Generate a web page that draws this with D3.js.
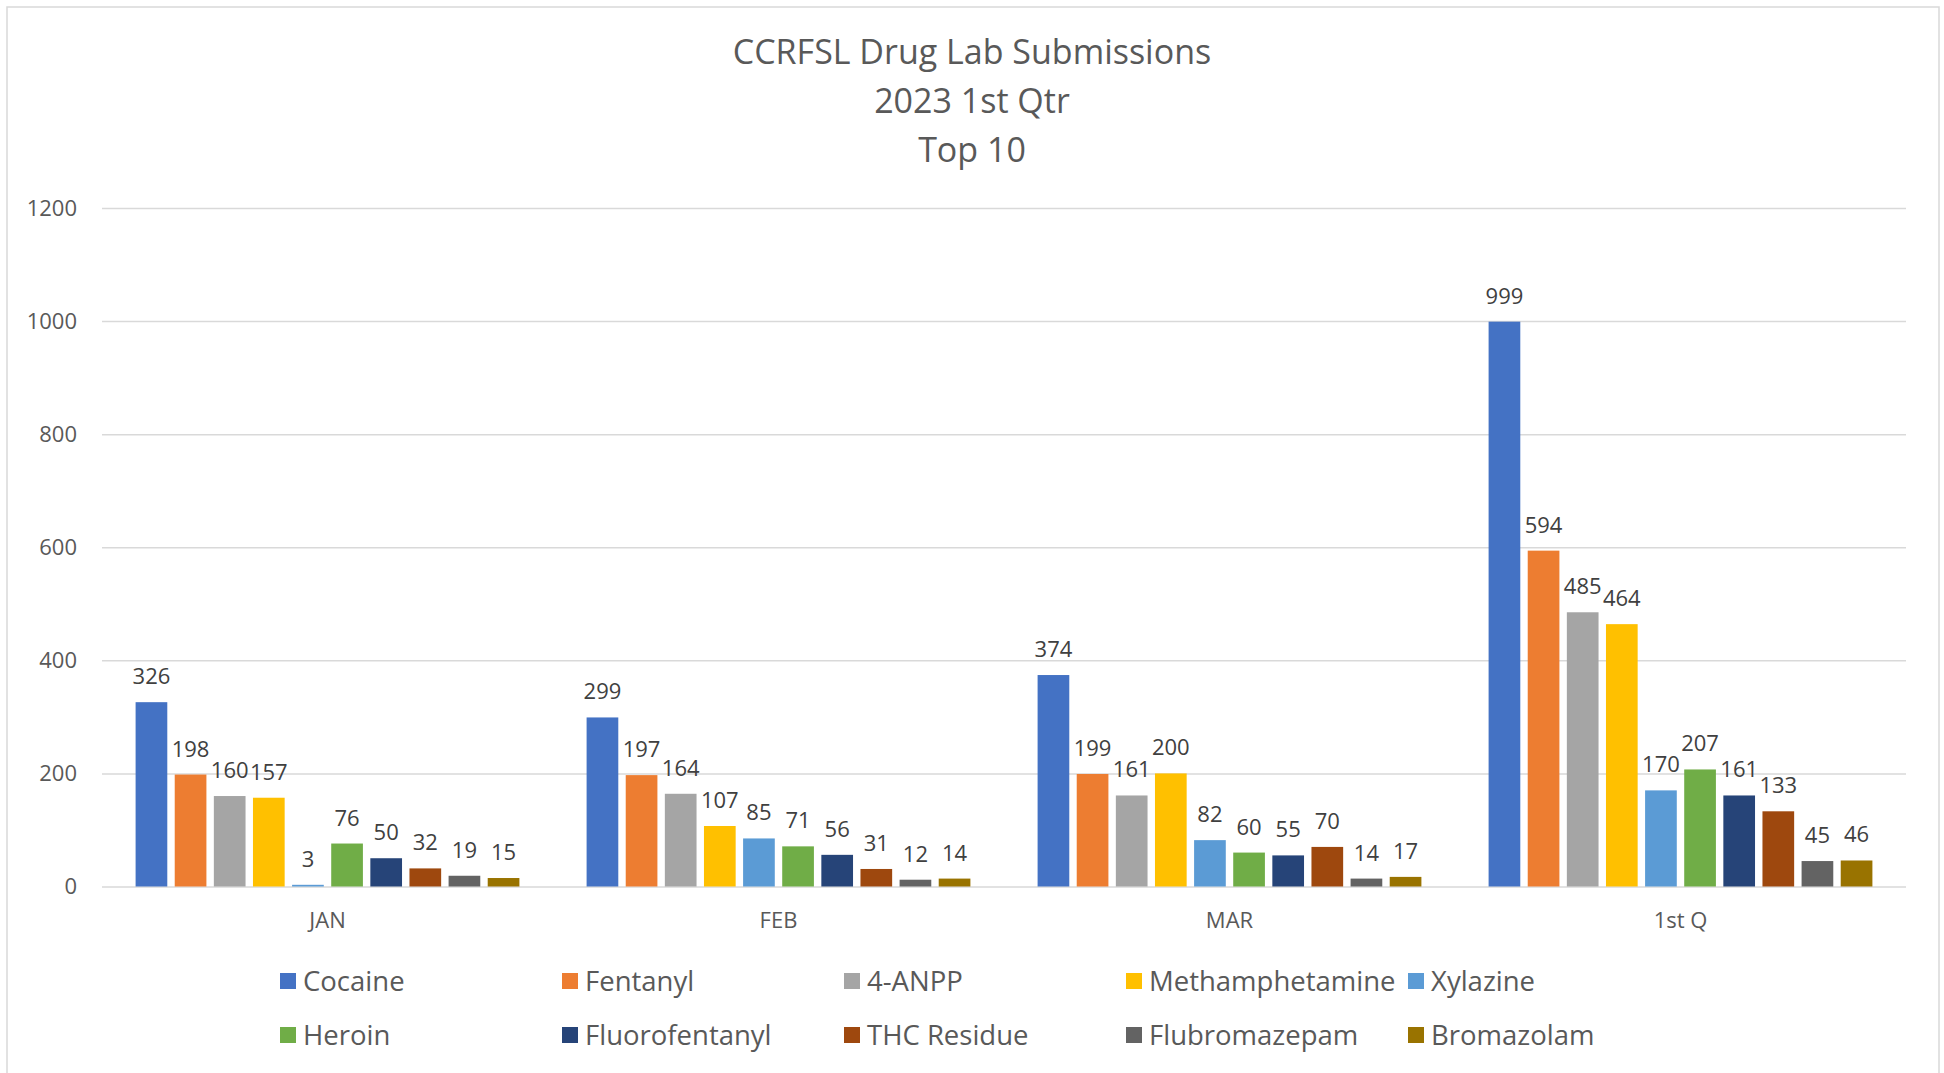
<!DOCTYPE html>
<html>
<head>
<meta charset="utf-8">
<script src="https://cdn.jsdelivr.net/npm/d3@7"></script>
<style>
  body { margin: 0; background: #fff; }
  text { font-family: "Open Sans", sans-serif; fill: #595959; }
</style>
</head>
<body>
<script>
// chart data
var months = ["JAN", "FEB", "MAR", "1st Q"];
var drugs = ["Cocaine", "Fentanyl", "4-ANPP", "Methamphetamine", "Xylazine",
             "Heroin", "Fluorofentanyl", "THC Residue", "Flubromazepam", "Bromazolam"];
var colors = ["#4472C4", "#ED7D31", "#A5A5A5", "#FFC000", "#5B9BD5",
              "#70AD47", "#264478", "#9E480E", "#636363", "#997300"];
var janValues = [326, 198, 160, 157, 3, 76, 50, 32, 19, 15];
var febValues = [299, 197, 164, 107, 85, 71, 56, 31, 12, 14];
var marValues = [374, 199, 161, 200, 82, 60, 55, 70, 14, 17];
var qtrValues = [999, 594, 485, 464, 170, 207, 161, 133, 45, 46];
var yTicks = [0, 200, 400, 600, 800, 1000, 1200];
var titleLines = ["CCRFSL Drug Lab Submissions", "2023 1st Qtr", "Top 10"];

var values = [janValues, febValues, marValues, qtrValues];

var width = 1944, height = 1073;
var svg = d3.select("body").append("svg")
    .attr("width", width)
    .attr("height", height);

// chart border
svg.append("rect")
    .attr("x", 7).attr("y", 7)
    .attr("width", 1932).attr("height", 1075)
    .attr("fill", "none")
    .attr("stroke", "#D9D9D9")
    .attr("stroke-width", 1.5);

// title
svg.append("g").selectAll("text")
    .data(titleLines)
    .enter().append("text")
    .attr("x", 972)
    .attr("y", function(d, i) { return 64 + i * 49; })
    .attr("text-anchor", "middle")
    .style("font-size", "34px")
    .text(function(d) { return d; });

var plotLeft = 102, plotRight = 1906, plotTop = 208, plotBottom = 886.5;

var x0 = d3.scaleBand()
    .domain(months)
    .range([plotLeft, plotRight])
    .paddingInner(0.149)
    .paddingOuter(0.0745);

var x1 = d3.scaleBand()
    .domain(drugs)
    .range([0, x0.bandwidth()])
    .paddingInner(0.19);

var y = d3.scaleLinear()
    .domain([0, 1200])
    .range([plotBottom, plotTop]);

// gridlines + y labels
var yAxis = d3.axisLeft(y)
    .tickValues(yTicks)
    .tickFormat(d3.format("d"))
    .tickSize(-(plotRight - plotLeft))
    .tickPadding(25);

var gy = svg.append("g")
    .attr("transform", "translate(" + plotLeft + ",0)")
    .call(yAxis);
gy.select(".domain").remove();
gy.selectAll(".tick line")
    .attr("stroke", "#D9D9D9")
    .attr("stroke-width", 1.5);
gy.selectAll(".tick text")
    .style("font-size", "22px")
    .style("font-family", "'Open Sans', sans-serif")
    .attr("fill", "#595959");

// x labels
var xAxis = d3.axisBottom(x0).tickSize(0).tickPadding(26);
var gx = svg.append("g")
    .attr("transform", "translate(0," + plotBottom + ")")
    .call(xAxis);
gx.select(".domain").remove();
gx.selectAll(".tick text")
    .style("font-size", "22px")
    .style("font-family", "'Open Sans', sans-serif")
    .attr("fill", "#595959");

// bars
var groups = svg.append("g").selectAll("g")
    .data(months)
    .enter().append("g")
    .attr("transform", function(d) { return "translate(" + x0(d) + ",0)"; });

groups.selectAll("rect")
    .data(function(d, i) {
      return drugs.map(function(drug, j) { return {drug: drug, value: values[i][j], color: colors[j]}; });
    })
    .enter().append("rect")
    .attr("x", function(d) { return x1(d.drug); })
    .attr("y", function(d) { return y(d.value); })
    .attr("width", x1.bandwidth())
    .attr("height", function(d) { return plotBottom - y(d.value); })
    .attr("fill", function(d) { return d.color; });

groups.selectAll("text")
    .data(function(d, i) {
      return drugs.map(function(drug, j) { return {drug: drug, value: values[i][j]}; });
    })
    .enter().append("text")
    .attr("x", function(d) { return x1(d.drug) + x1.bandwidth() / 2; })
    .attr("y", function(d) { return y(d.value) - 18; })
    .attr("text-anchor", "middle")
    .style("font-size", "22px")
    .style("fill", "#404040")
    .text(function(d) { return d.value; });

// legend
var legend = svg.append("g").selectAll("g")
    .data(drugs)
    .enter().append("g")
    .attr("transform", function(d, i) {
      return "translate(" + (280 + (i % 5) * 282) + "," + (981 + Math.floor(i / 5) * 54) + ")";
    });

legend.append("rect")
    .attr("x", 0).attr("y", -8)
    .attr("width", 16).attr("height", 16)
    .attr("fill", function(d, i) { return colors[i]; });

legend.append("text")
    .attr("x", 23)
    .attr("y", 10)
    .style("font-size", "27.5px")
    .text(function(d) { return d; });
</script>
</body>
</html>
